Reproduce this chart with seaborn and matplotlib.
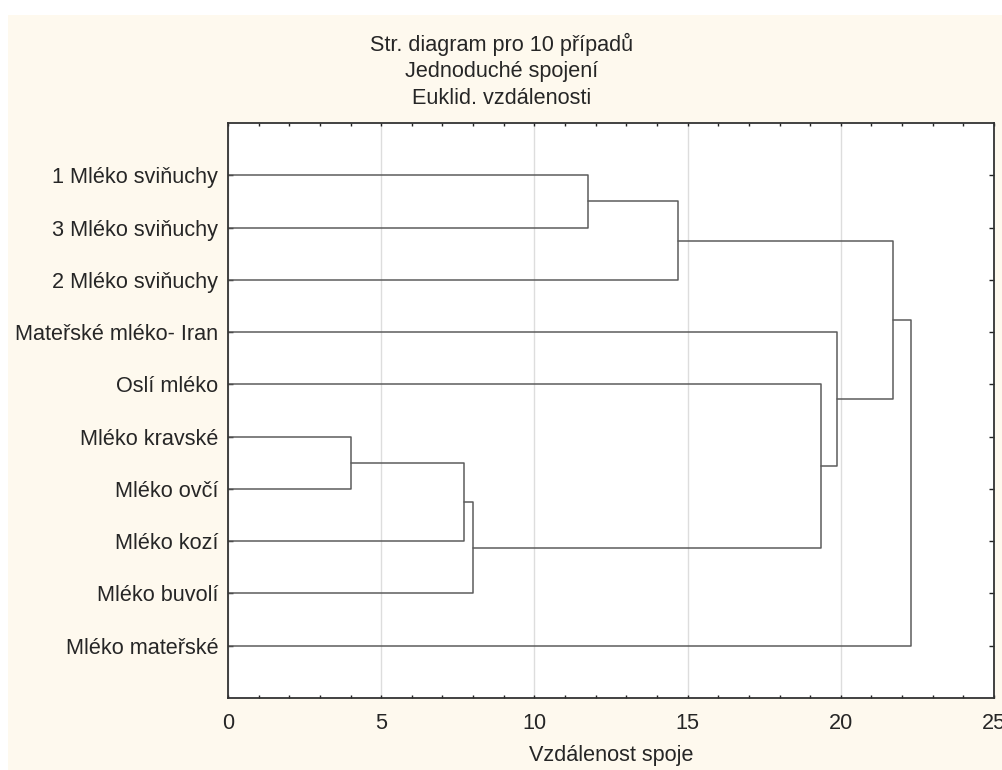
import numpy as np
import pandas as pd
import matplotlib
matplotlib.use("Agg")
import matplotlib.pyplot as plt
from matplotlib.patches import Rectangle
from matplotlib.ticker import MultipleLocator
import seaborn as sns

# ---- data ----
leaves = ["1 Mléko sviňuchy", "3 Mléko sviňuchy", "2 Mléko sviňuchy",
          "Mateřské mléko- Iran", "Oslí mléko", "Mléko kravské",
          "Mléko ovčí", "Mléko kozí", "Mléko buvolí", "Mléko mateřské"]
merge_left = ["Mléko kravské", "C0", "C1", "1 Mléko sviňuchy", "C3",
              "Oslí mléko", "Mateřské mléko- Iran", "C4", "C7"]
merge_right = ["Mléko ovčí", "Mléko kozí", "Mléko buvolí", "3 Mléko sviňuchy",
               "2 Mléko sviňuchy", "C2", "C5", "C6", "Mléko mateřské"]
merge_dist = [4.00, 7.69, 7.99, 11.74, 14.68, 19.34, 19.88, 21.70, 22.28]
title_lines = ["Str. diagram pro 10 případů", "Jednoduché spojení", "Euklid. vzdálenosti"]
x_label = "Vzdálenost spoje"
x_ticks = [0, 5, 10, 15, 20, 25]

# ---- build dendrogram segments ----
pos = {name: (0.0, float(i + 1)) for i, name in enumerate(leaves)}
rows = []
for k, (a, b, h) in enumerate(zip(merge_left, merge_right, merge_dist)):
    xa, ya = pos[a]
    xb, yb = pos[b]
    for order, (x, y) in enumerate([(xa, ya), (h, ya), (h, yb), (xb, yb)]):
        rows.append({"seg": k, "order": order, "x": x, "y": y})
    pos[f"C{k}"] = (h, (ya + yb) / 2)
df = pd.DataFrame(rows)

# ---- style ----
sns.set_style("white")
plt.rcParams["font.family"] = ["Liberation Sans", "DejaVu Sans"]
FS = 15.6

fig = plt.figure(figsize=(10.03, 7.70), dpi=100, facecolor="white")
fig.add_artist(Rectangle((8 / 1003, 0), 1, 1 - 15 / 770, transform=fig.transFigure,
                         facecolor="#FEF9EE", edgecolor="none", zorder=-10))
ax = fig.add_axes([228 / 1003, 1 - 698 / 770, (994 - 228) / 1003, (698 - 123) / 770])
ax.set_facecolor("white")

sns.lineplot(data=df, x="x", y="y", units="seg", estimator=None, sort=False,
             color="#5c5c5c", linewidth=1.1, ax=ax, legend=False)

ax.set_xlim(0, 25)
ax.set_ylim(11, 0)
ax.set_xticks(x_ticks)
ax.set_xticklabels([str(t) for t in x_ticks], fontsize=FS)
ax.xaxis.set_minor_locator(MultipleLocator(1))
ax.set_yticks(range(1, len(leaves) + 1))
ax.set_yticklabels(leaves, fontsize=FS)
ax.tick_params(axis="x", which="both", direction="in", top=True, bottom=True,
               length=2.5, width=1, color="#222222", pad=11)
ax.tick_params(axis="y", which="both", direction="in", left=True, right=True,
               length=3.5, width=1, color="#222222", pad=7)
ax.xaxis.grid(True, which="major", color="#dddddd", linewidth=1)
ax.yaxis.grid(False)
ax.set_axisbelow(True)
for s in ax.spines.values():
    s.set_color("#333333")
    s.set_linewidth(1.3)
    s.set_visible(True)

ax.set_xlabel(x_label, fontsize=FS, labelpad=8)
ax.set_ylabel("")

for i, line in enumerate(title_lines):
    fig.text(0.5, 1 - (44 + 27 * i) / 770, line, ha="center", va="center", fontsize=FS)

fig.savefig("out.png", dpi=100, facecolor=fig.get_facecolor())
